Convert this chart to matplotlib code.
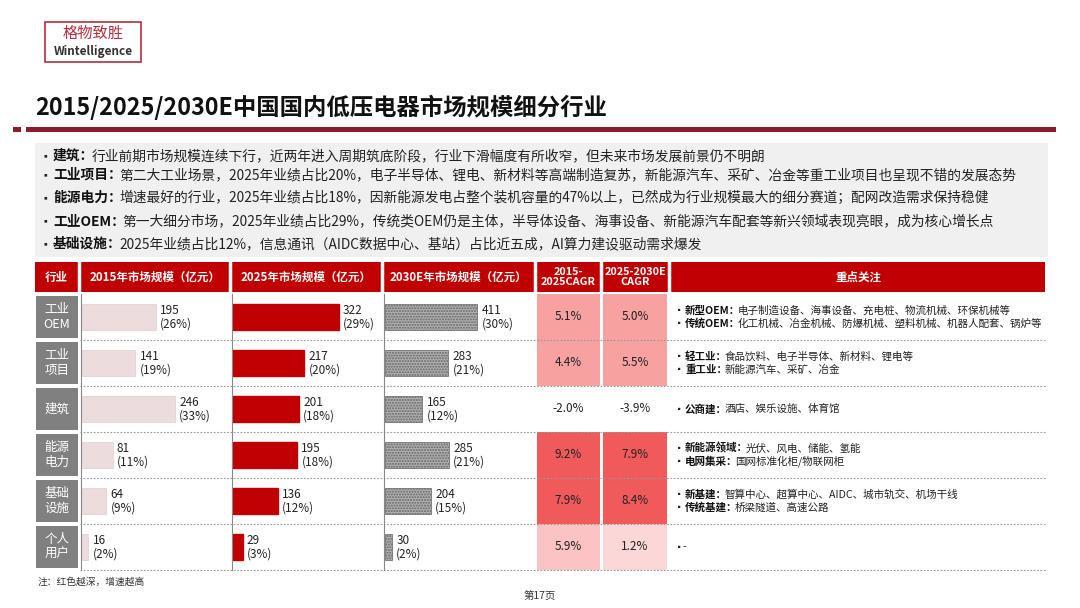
import matplotlib
matplotlib.use("Agg")
import matplotlib.pyplot as plt
from matplotlib.patches import Rectangle

plt.rcParams['font.family'] = ['Noto Sans CJK SC', 'DejaVu Sans']

industries = ["工业\nOEM", "工业\n项目", "建筑", "能源\n电力", "基础\n设施", "个人\n用户"]
v2015 = [195, 141, 246, 81, 64, 16]
s2015 = ["26%", "19%", "33%", "11%", "9%", "2%"]
v2025 = [322, 217, 201, 195, 136, 29]
s2025 = ["29%", "20%", "18%", "18%", "12%", "3%"]
v2030 = [411, 283, 165, 285, 204, 30]
s2030 = ["30%", "21%", "12%", "21%", "15%", "2%"]
cagr1 = ["5.1%", "4.4%", "-2.0%", "9.2%", "7.9%", "5.9%"]
cagr2 = ["5.0%", "5.5%", "-3.9%", "7.9%", "8.4%", "1.2%"]
focus = [
    [("新型OEM：", "电子制造设备、海事设备、充电桩、物流机械、环保机械等"),
     ("传统OEM：", "化工机械、冶金机械、防爆机械、塑料机械、机器人配套、锅炉等")],
    [("轻工业：", "食品饮料、电子半导体、新材料、锂电等"),
     ("重工业：", "新能源汽车、采矿、冶金")],
    [("公商建：", "酒店、娱乐设施、体育馆")],
    [("新能源领域：", "光伏、风电、储能、氢能"),
     ("电网集采：", "国网标准化柜/物联网柜")],
    [("新基建：", "智算中心、超算中心、AIDC、城市轨交、机场干线"),
     ("传统基建：", "桥梁隧道、高速公路")],
    [("", "-")],
]
bullets = [
    ("建筑：", "行业前期市场规模连续下行，近两年进入周期筑底阶段，行业下滑幅度有所收窄，但未来市场发展前景仍不明朗"),
    ("工业项目：", "第二大工业场景，2025年业绩占比20%，电子半导体、锂电、新材料等高端制造复苏，新能源汽车、采矿、冶金等重工业项目也呈现不错的发展态势"),
    ("能源电力：", "增速最好的行业，2025年业绩占比18%，因新能源发电占整个装机容量的47%以上，已然成为行业规模最大的细分赛道；配网改造需求保持稳健"),
    ("工业OEM：", "第一大细分市场，2025年业绩占比29%，传统类OEM仍是主体，半导体设备、海事设备、新能源汽车配套等新兴领域表现亮眼，成为核心增长点"),
    ("基础设施：", "2025年业绩占比12%，信息通讯（AIDC数据中心、基站）占比近五成，AI算力建设驱动需求爆发"),
]
headers = ["行业", "2015年市场规模（亿元）", "2025年市场规模（亿元）", "2030E年市场规模（亿元）",
           "2015-\n2025CAGR", "2025-2030E\nCAGR", "重点关注"]

W, H = 1080, 608
fig = plt.figure(figsize=(10.8, 6.08), dpi=100)
ax = fig.add_axes([0, 0, 1, 1])
ax.set_xlim(0, W); ax.set_ylim(H, 0); ax.axis('off')

RED = "#c00000"
DARK = "#8b1a2b"

def pair(x, y, b, t, fs):
    tb = ax.text(x, y, b, fontsize=fs, fontweight='bold', va='center', color="#111111")
    ax.annotate(t, xycoords=tb, xy=(1, 0.5), xytext=(-2, 0), textcoords='offset points',
                va='center', fontsize=fs, color="#222222")

# logo
ax.add_patch(Rectangle((45, 22), 96, 40, fill=False, ec="#b03040", lw=1.2))
ax.text(93, 33, "格物致胜", color="#b03040", fontsize=11, ha='center', va='center')
ax.text(93, 52, "Wintelligence", color="#333333", fontsize=8.5, ha='center', va='center', fontweight='bold')

# title
ax.text(35, 107, "2015/2025/2030E中国国内低压电器市场规模细分行业", fontsize=16.8, fontweight='bold',
        va='center', ha='left', color="#111111")
ax.add_patch(Rectangle((13, 127), 8, 5, color=DARK, lw=0))
ax.add_patch(Rectangle((26, 127), 1030, 5, color=DARK, lw=0))

# bullet box
ax.add_patch(Rectangle((35, 143), 1013, 114, color="#f0f0f0", lw=0))
by = [156, 175, 198, 221, 244]
for (b, t), y in zip(bullets, by):
    ax.text(41, y, "▪", fontsize=7, va='center', color="#222222")
    pair(53, y, b, t, 9.9)

# table
cols = [(35, 78), (81, 229), (232, 380), (384, 533), (537, 600), (603, 667), (671, 1045)]
ax.add_patch(Rectangle((35, 262), 1010, 30, color=RED, lw=0))
for (x0, x1), h in zip(cols, headers):
    ax.text((x0 + x1) / 2, 277, h, color='white', fontsize=8.3 if '\n' not in h else 7.8,
            fontweight='bold', ha='center', va='center', linespacing=1.1)
for (x0, x1) in cols[1:]:
    ax.plot([x0 - 2, x0 - 2], [262, 292], color='white', lw=2.5)

top, rh = 294, 46
c1 = ["#f7a1a1", "#f7a1a1", "#ffffff", "#f05a5a", "#f05a5a", "#fbc3c3"]
c2 = ["#f7a1a1", "#f7a1a1", "#ffffff", "#f05a5a", "#f05a5a", "#fbd7d7"]
for i in range(6):
    y0 = top + i * rh
    ax.add_patch(Rectangle((36, y0 + 2), 42, rh - 4, color="#808080", lw=0))
    ax.text(57, y0 + rh / 2, industries[i], color='white', fontsize=9, ha='center', va='center',
            linespacing=1.15)
    for (x0, x1), col, txt in [(cols[4], c1, cagr1), (cols[5], c2, cagr2)]:
        ax.add_patch(Rectangle((x0, y0), x1 - x0, rh, color=col[i], lw=0))
        ax.text((x0 + x1) / 2, y0 + rh / 2, txt[i], fontsize=8.5, ha='center', va='center', color="#222222")
    items = focus[i]
    n = len(items)
    for k, (b, t) in enumerate(items):
        yy = y0 + rh / 2 + (k - (n - 1) / 2) * 13
        ax.text(675, yy, "▪", fontsize=6, va='center', color="#222222")
        pair(685, yy, b, t, 7.6)
    if i < 5:
        ax.plot([80, 1045], [y0 + rh, y0 + rh], color="#999999", lw=0.8, ls=(0, (1.5, 1.5)))
ax.plot([80, 1045], [top + 6 * rh, top + 6 * rh], color="#999999", lw=0.8, ls=(0, (1.5, 1.5)))
for x in [81, 232, 384]:
    ax.plot([x, x], [294, 570], color="#888888", lw=0.8)

# bar columns
def bar_col(x0, x1, vals, shares, xmax, **kw):
    bax = fig.add_axes([x0 / W, 1 - 570 / H, (x1 - x0) / W, 276 / H])
    bax.set_xlim(0, xmax); bax.set_ylim(5.5, -0.5); bax.axis('off')
    bax.patch.set_alpha(0)
    yy = list(range(len(vals)))
    bax.barh(yy, vals, height=0.55, **kw)
    for y, v, s in zip(yy, vals, shares):
        bax.text(v + xmax * 0.03, y, f"{v}\n({s})", fontsize=8.5, va='center', ha='left',
                 color="#222222", linespacing=1.1)

bar_col(82, 229, v2015, s2015, 390, color="#ecdcdd", edgecolor="#e0cccc", lw=0.5)
bar_col(233, 380, v2025, s2025, 448, color=RED, edgecolor=RED)
plt.rcParams['hatch.color'] = "#555555"
bar_col(385, 533, v2030, s2030, 660, color="#b0b0b0", edgecolor="#666666", hatch='......', lw=0.5)

ax.text(38, 582, "注：红色越深，增速越高", fontsize=7, va='center', color="#333333")
ax.text(540, 596, "第17页", fontsize=7.5, va='center', ha='center', color="#333333")

fig.savefig("out.png", dpi=100)
